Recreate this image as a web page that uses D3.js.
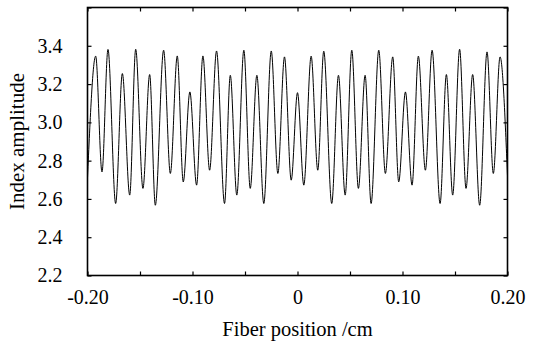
<!DOCTYPE html>
<html lang="en">
<head>
    <meta charset="UTF-8">
    <title>Index amplitude</title>
    <script src="https://cdn.jsdelivr.net/npm/d3@7/dist/d3.min.js"></script>
    <style>
        body { margin: 0; background: #fff; }
        svg text { font-family: "Liberation Serif", "Times New Roman", serif; fill: #000; }
    </style>
</head>
<body>
    <script>
        // extrema of the trace (position in cm, amplitude)
        var fiberPos = [
            -0.2000, -0.1922, -0.1862, -0.1805, -0.1732, -0.1668, -0.1598, -0.1541,
            -0.1472, -0.1408, -0.1354, -0.1275, -0.1211, -0.1145, -0.1088, -0.1025,
            -0.0961, -0.0901, -0.0837, -0.0771, -0.0695, -0.0640, -0.0578, -0.0511,
            -0.0450, -0.0387, -0.0321, -0.0250, -0.0187, -0.0124, -0.0060, 0.0000,
            0.0060, 0.0130, 0.0193, 0.0250, 0.0326, 0.0390, 0.0454, 0.0517,
            0.0580, 0.0644, 0.0701, 0.0774, 0.0837, 0.0907, 0.0964, 0.1028,
            0.1091, 0.1151, 0.1218, 0.1282, 0.1358, 0.1418, 0.1478, 0.1544,
            0.1605, 0.1668, 0.1735, 0.1805, 0.1865, 0.1929, 0.2000
        ];
        var indexAmp = [
            2.71, 3.346, 2.741, 3.381, 2.576, 3.255, 2.620, 3.382,
            2.655, 3.250, 2.567, 3.377, 2.733, 3.347, 2.689, 3.159,
            2.672, 3.347, 2.750, 3.373, 2.576, 3.246, 2.620, 3.377,
            2.655, 3.246, 2.576, 3.373, 2.733, 3.342, 2.698, 3.155,
            2.672, 3.346, 2.750, 3.372, 2.576, 3.246, 2.620, 3.377,
            2.655, 3.246, 2.576, 3.377, 2.733, 3.342, 2.689, 3.159,
            2.672, 3.346, 2.750, 3.377, 2.576, 3.250, 2.620, 3.382,
            2.655, 3.250, 2.567, 3.368, 2.733, 3.342, 2.72
        ];

        // ticks and their labels
        var xTicks = [-0.20, -0.15, -0.10, -0.05, 0, 0.05, 0.10, 0.15, 0.20];
        var xTickLabels = ['-0.20', '', '-0.10', '', '0', '', '0.10', '', '0.20'];
        var yTicks = [2.2, 2.4, 2.6, 2.8, 3.0, 3.2, 3.4, 3.6];
        var yTickLabels = ['2.2', '2.4', '2.6', '2.8', '3.0', '3.2', '3.4', ''];

        var w = 535;
        var h = 343;
        var plotLeft = 87.5, plotRight = 507.5, plotTop = 7.5, plotBottom = 275.5;
        var serif = '"Liberation Serif", "Times New Roman", serif';

        var data = fiberPos.map(function(d, i) { return [d, indexAmp[i]]; });

        var xScale = d3.scaleLinear().domain([-0.2, 0.2]).range([plotLeft, plotRight]);
        var yScale = d3.scaleLinear().domain([2.2, 3.6]).range([plotBottom, plotTop]);

        var svg = d3.select('body')
                    .append('svg')
                    .attr('width', w)
                    .attr('height', h);

        //the trace
        var line = d3.line()
                     .x(function(d) { return xScale(d[0]); })
                     .y(function(d) { return yScale(d[1]); })
                     .curve(d3.curveMonotoneX);

        svg.append('path')
            .datum(data)
            .attr('d', line)
            .attr('fill', 'none')
            .attr('stroke', '#000')
            .attr('stroke-width', 1);

        //axes, ticks point inwards on all four sides
        function fmt(labels, ticks) {
            return function(d) { return labels[ticks.indexOf(d)]; };
        }

        var xAxis = d3.axisBottom(xScale).tickValues(xTicks)
                      .tickFormat(fmt(xTickLabels, xTicks))
                      .tickSizeInner(-4).tickSizeOuter(0).tickPadding(14);
        var xAxisTop = d3.axisTop(xScale).tickValues(xTicks)
                      .tickFormat('').tickSizeInner(-4).tickSizeOuter(0);
        var yAxis = d3.axisLeft(yScale).tickValues(yTicks)
                      .tickFormat(fmt(yTickLabels, yTicks))
                      .tickSizeInner(-4).tickSizeOuter(0).tickPadding(25);
        var yAxisRight = d3.axisRight(yScale).tickValues(yTicks)
                      .tickFormat('').tickSizeInner(-4).tickSizeOuter(0);

        svg.append('g').attr('class', 'x axis')
            .attr('transform', 'translate(0,' + plotBottom + ')').call(xAxis);
        svg.append('g').attr('transform', 'translate(0,' + plotTop + ')').call(xAxisTop);
        svg.append('g').attr('class', 'y axis')
            .attr('transform', 'translate(' + plotLeft + ',0)').call(yAxis);
        svg.append('g').attr('transform', 'translate(' + plotRight + ',0)').call(yAxisRight);

        svg.selectAll('.domain').remove();
        svg.selectAll('g').attr('font-family', serif);
        svg.selectAll('.tick line').attr('stroke', '#000').attr('stroke-width', 1.2);
        svg.selectAll('.tick text')
            .style('font-family', serif)
            .attr('font-size', 20)
            .attr('fill', '#000');

        //frame
        svg.append('rect')
            .attr('x', plotLeft)
            .attr('y', plotTop)
            .attr('width', plotRight - plotLeft)
            .attr('height', plotBottom - plotTop)
            .attr('fill', 'none')
            .attr('stroke', '#000')
            .attr('stroke-width', 1.6);

        //axis titles
        svg.append('text')
            .attr('x', (plotLeft + plotRight) / 2)
            .attr('y', 336)
            .attr('text-anchor', 'middle')
            .style('font-family', serif)
            .attr('font-size', 20.5)
            .text('Fiber position /cm');

        svg.append('text')
            .attr('transform', 'translate(24,' + ((plotTop + plotBottom) / 2) + ') rotate(-90)')
            .attr('text-anchor', 'middle')
            .style('font-family', serif)
            .attr('font-size', 21)
            .text('Index amplitude');
    </script>
</body>
</html>
